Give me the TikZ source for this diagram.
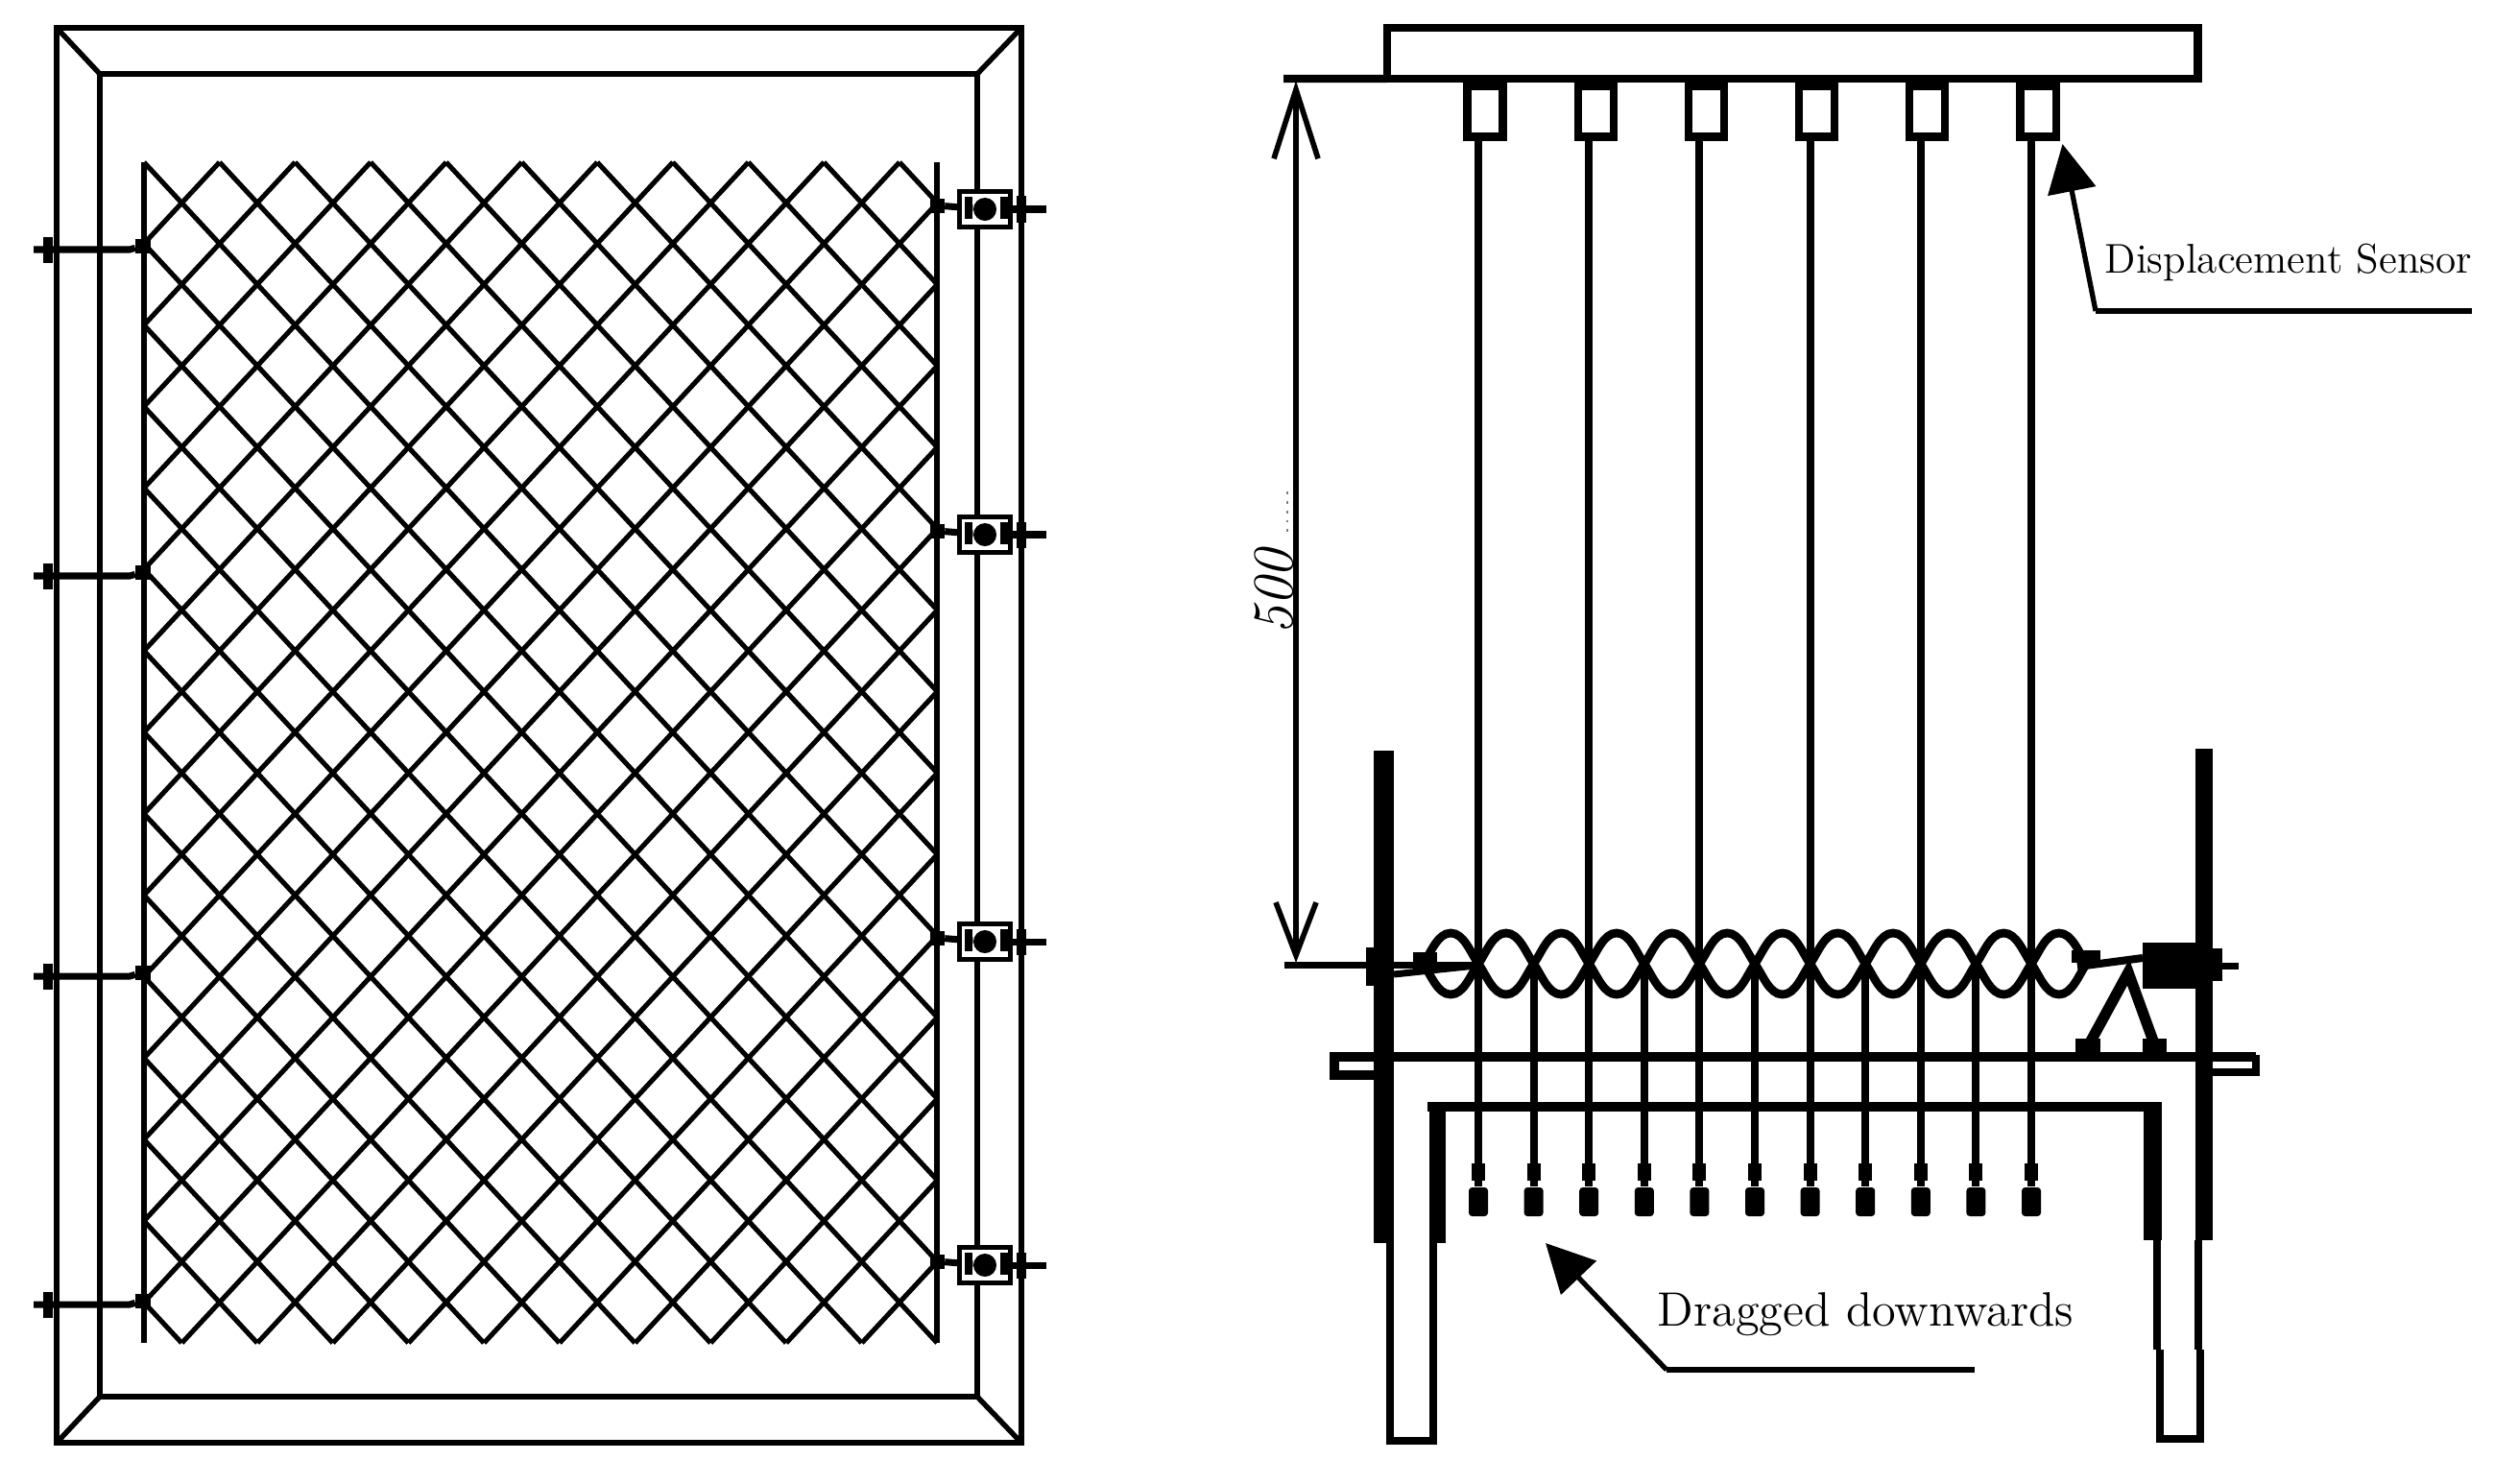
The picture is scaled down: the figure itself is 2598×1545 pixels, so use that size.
\documentclass[tikz,border=0pt]{standalone}
\usepackage{tikz}
\usetikzlibrary{arrows.meta}

\begin{document}
\begin{tikzpicture}[x=0.01cm,y=-0.01cm]
        %
        % `frameline' is used for the window frame, `meshline' for the net.
        % `nut', `blob' and `bar' are the small solid parts.
        \tikzstyle{frameline} = [line width=1.55pt]
        \tikzstyle{meshline} = [line width=1.45pt]
        \tikzstyle{rod} = [line width=2pt]
        \tikzstyle{wire} = [line width=2.3pt]
        \tikzstyle{nut} = [fill,minimum width=0.1cm,minimum height=0.27cm,inner sep=0pt]
        \tikzstyle{blob} = [fill,minimum size=0.15cm,inner sep=0pt]
        \tikzstyle{bar} = [fill,minimum width=0.08cm,minimum height=0.23cm,inner sep=0pt]
        \tikzstyle{dot} = [fill,shape=circle,minimum size=0.24cm,inner sep=0pt]
        \tikzstyle{loadcell} = [draw,fill=white,line width=1.4pt,minimum width=0.53cm,minimum height=0.37cm,inner sep=0pt]
        \tikzstyle{sensor} = [draw,fill=white,line width=2.3pt,minimum width=0.37cm,minimum height=0.53cm,inner sep=0pt]
        \tikzstyle{bob} = [fill,rounded corners=1pt,minimum width=0.2cm,minimum height=0.3cm,inner sep=0pt]
        \tikzstyle{link} = [fill,minimum width=0.14cm,minimum height=0.18cm,inner sep=0pt]
        \tikzstyle{beam} = [draw,line width=2.4pt,outer sep=0pt,minimum width=8.44cm,minimum height=0.53cm,inner sep=0pt]
        \tikzstyle{leader} = [line width=1.5pt,-{Triangle[length=0.5cm,width=0.5cm]}]
        \useasboundingbox (0,0) rectangle (2598,1545);
        %
        % Frame
        \draw[frameline] (59,29) rectangle (1064,1503);
        \draw[frameline] (104,77) rectangle (1018,1455);
        \draw[frameline] (59,29) -- (104,77);
        \draw[frameline] (1064,29) -- (1018,77);
        \draw[frameline] (59,1503) -- (104,1455);
        \draw[frameline] (1064,1503) -- (1018,1455);
        %
        % Net
        \begin{scope}
        \clip (150,165) rectangle (976,1400);
        \foreach \k in {-15,...,25} {
                \draw[meshline] ({150+78.7*\k},169) -- +(1141,1230);
                \draw[meshline] ({150+78.7*\k},169) -- +(-1141,1230);
        }
        \end{scope}
        \draw[frameline] (150,169) -- (150,1399);
        \draw[frameline] (976,169) -- (976,1399);
        %
        % Left ties
        \foreach \n/\y in {1/260,2/600,3/1017,4/1359} {
                \node[blob] (tieL\n) at (149,\y-4) {};
                \node[nut] (nutL\n) at (50,\y) {};
                \coordinate (endL\n) at (35,\y);
                \draw[rod] (endL\n) -- (135,\y) -- (tieL\n);
        }
        %
        % Right ties
        \foreach \n/\y in {1/218,2/557,3/981,4/1318} {
                \node[blob] (tieR\n) at (976,\y-4) {};
                \node[loadcell] (cell\n) at (1026,\y) {};
                \node[nut] (nutR\n) at (1064,\y) {};
                \coordinate (endR\n) at (1090,\y);
                \draw[rod] (tieR\n) -- (cell\n);
                \draw[rod] (cell\n) -- (endR\n);
                \node[dot] (dot\n) at (1026,\y) {};
                \node[bar] (barA\n) at (1009,\y-2) {};
                \node[bar] (barB\n) at (1046,\y-2) {};
                \draw[rod] (barA\n) -- (dot\n);
        }
        %
        % Top beam
        \node[beam] (beam) at (1867,55.5) {};
        \coordinate (dimtop) at (1350,84);
        \coordinate (dimbot) at (1350,1003);
        \coordinate (dimleft) at (1337,82);
        \draw[wire] (dimleft) -- (beam.south west);
        %
        % Dimension
        \node[rotate=90,font=\fontsize{17}{20}\selectfont\itshape] (size) at (1327,617) {500};
        \draw[line width=0.8pt,dotted,gray] (1341,512) -- (1341,556);
        \draw[line width=1.6pt,{Straight Barb[length=0.72cm,width=0.46cm]}-{Straight Barb[length=0.55cm,width=0.42cm]}] (dimtop) -- (dimbot);
        \draw[rod] (1338,1005) -- (1537,1005);
        %
        % Stand
        \fill (1431,782) rectangle (1452,1295);
        \fill (2287,780) rectangle (2305,1292);
        \fill (1489,1153) rectangle (1506,1295);
        \fill (2233,1153) rectangle (2252,1292);
        \draw[wire] (1448,1295) -- (1448,1501) -- (1493,1501) -- (1493,1295);
        \draw[wire] (2247,1292) -- (2247,1406);
        \draw[wire] (2290,1292) -- (2290,1406);
        \draw[wire] (2250,1406) -- (2250,1499) -- (2292,1499) -- (2292,1406);
        % Table
        \draw[wire,line width=2.8pt] (2350,1101) -- (1390,1101) -- (1390,1120) -- (1441,1120);
        \draw[wire] (2350,1099) -- (2350,1117) -- (2297,1117);
        \draw[wire,line width=2.8pt] (1487,1153) -- (2252,1153);
        %
        % Twisted net seen from the side
        \foreach \n in {0,...,11} {
                \pgfmathsetmacro{\xa}{1482.4+57.6*\n}
                \draw[wire,line width=2.5pt] (\xa,1004) .. controls (\xa+8,993) and (\xa+15,972) .. (\xa+28.8,972)
                        .. controls (\xa+42.6,972) and (\xa+49.6,993) .. (\xa+57.6,1004);
                \draw[wire,line width=2.5pt] (\xa,1004) .. controls (\xa+8,1015) and (\xa+15,1036) .. (\xa+28.8,1036)
                        .. controls (\xa+42.6,1036) and (\xa+49.6,1015) .. (\xa+57.6,1004);
        }
        %
        % Hanging wires
        \foreach \n in {1,...,11} {
                \pgfmathsetmacro{\xw}{1540+57.6*(\n-1)}
                \node[bob] (bob\n) at (\xw,1252) {};
                \node[link] (link\n) at (\xw,1221) {};
                \coordinate (top\n) at (\xw,1012);
                \draw[wire] (top\n) -- (bob\n);
        }
        % Sensors
        \foreach \n in {1,3,5,7,9,11} {
                \pgfmathsetmacro{\xs}{1547+57.6*(\n-1)}
                \node[sensor] (sensor\n) at (\xs,116) {};
                \draw[wire] (sensor\n.south -| bob\n) -- (top\n);
        }
        %
        % Left clamp
        \fill (1423,987) rectangle (1452,1027);
        \fill (1472,992) rectangle (1497,1014);
        \draw[rod] (1452,1015) -- (1537,1006);
        %
        % Right clamp
        \fill (2232,982) rectangle (2287,1030);
        \fill (2305,988) rectangle (2315,1022);
        \fill (2158,990) rectangle (2188,1003);
        \fill (2162,1082) rectangle (2188,1097);
        \fill (2232,1082) rectangle (2257,1097);
        \draw[rod] (2315,1006) -- (2332,1006);
        \draw[wire] (2164,1007) -- (2232,998);
        \draw[line width=3.2pt] (2175,1090) -- (2217,1013) -- (2245,1090);
        %
        % Labels
        \node[anchor=base west,inner sep=0pt,font=\fontsize{12.3}{14}\selectfont] (dispText) at (2192,284) {Displacement Sensor};
        \node[anchor=base west,inner sep=0pt,font=\fontsize{14.3}{16}\selectfont] (dragText) at (1726,1381) {Dragged downwards};
        % Leaders
        \coordinate (dispEnd) at (2575,324);
        \coordinate (dispKnee) at (2183,324);
        \coordinate (dispTip) at (2148.5,150);
        \draw[line width=1.5pt] (dispEnd) -- (dispKnee);
        \draw[leader] (dispKnee) -- (dispTip);
        \coordinate (dragEnd) at (2057,1427);
        \coordinate (dragKnee) at (1736,1427);
        \coordinate (dragTip) at (1610,1295);
        \draw[line width=1.5pt] (dragEnd) -- (dragKnee);
        \draw[leader] (dragKnee) -- (dragTip);
        %
\end{tikzpicture}
\end{document}
